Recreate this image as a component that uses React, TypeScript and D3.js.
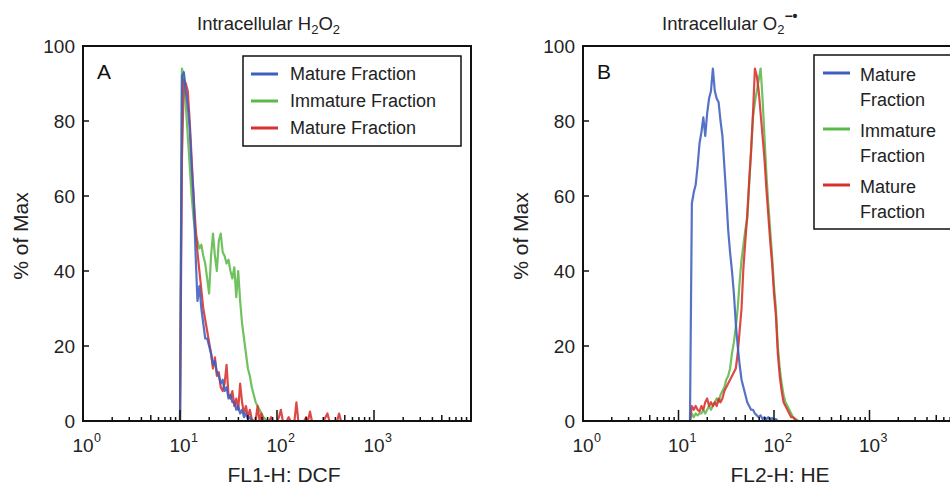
import React from 'react';
import * as d3 from 'd3';

const W = 950;
const H = 486;

const yTicks = [0, 20, 40, 60, 80, 100];
const xDecades = [0, 1, 2, 3];
const seriesColors = ['#3d5fbf', '#5db84b', '#d8302c'];
const legendA = ['Mature Fraction', 'Immature Fraction', 'Mature Fraction'];
const legendB = [['Mature', 'Fraction'], ['Immature', 'Fraction'], ['Mature', 'Fraction']];

// Histogram bins: log10(fluorescence) of first bin and bin width (decades)
const binStartA = 1.0;
const binStartB = 1.12;
const binStep = 0.02;

// Panel A: FL1-H DCF (% of max)
const blueA = [0, 92, 93, 88, 84, 78, 68, 60, 45, 32, 36, 30, 26, 22, 22, 20, 18, 15, 16, 13, 12, 10, 11, 8, 9, 6, 7, 5, 5, 3, 4, 2, 3, 1, 2, 0.5, 1, 0];
const greenA = [0, 94, 92, 84, 76, 68, 60, 54, 50, 48, 46, 47, 44, 42, 38, 34, 44, 50, 44, 40, 48, 50, 45, 44, 42, 43, 40, 38, 41, 33, 40, 32, 26, 22, 18, 14, 12, 9, 7, 5, 4, 3, 2, 1, 0.5, 0];
const redA = [0, 70, 91, 90, 88, 80, 70, 60, 52, 45, 40, 35, 30, 27, 24, 21, 18, 14, 17, 12, 13, 9, 8, 10, 15, 7, 6, 8, 4, 6, 3, 10, 5, 2, 4, 1, 3, 0.5, 0, 0, 4, 0, 2, 0, 0, 0, 0, 1, 0, 0, 0, 1, 3, 0, 0, 0, 1, 0, 0, 0, 5, 0, 0, 0, 0, 1, 0, 2.5, 0, 0, 0, 0, 0, 0, 0, 1, 2, 0, 0, 0, 0, 0, 2, 0];

// Panel B: FL2-H HE (% of max)
const blueB = [0, 58, 61, 63, 68, 74, 77, 81, 76, 82, 86, 88, 94, 88, 86, 85, 80, 76, 68, 60, 51, 45, 40, 34, 26, 20, 15, 11, 9, 7, 5, 4, 3, 3, 2, 1.5, 1, 1.5, 0.5, 1, 0.5, 1, 0.3, 0.8, 0.3, 0.5, 0];
const greenB = [0, 2, 1, 2, 1.5, 2, 2, 3, 2, 3, 4, 3, 4, 5, 6, 5, 7, 8, 9, 11, 12, 14, 18, 21, 25, 30, 37, 43, 47, 51, 54, 63, 72, 81, 85, 88, 91, 94, 86, 76, 66, 58, 51, 44, 36, 30, 20, 14, 10, 7, 5, 4, 3, 2, 1, 0.5, 0.3, 0];
const redB = [0, 4, 3, 4, 3, 2.5, 4, 3, 5, 6, 4, 5, 4, 5, 4, 6, 5, 6, 8, 9, 10, 11, 12, 13, 14, 18, 24, 30, 41, 48, 55, 64, 72, 82, 94, 92, 88, 82, 76, 70, 62, 55, 48, 42, 34, 28, 18, 12, 8, 5, 4, 3, 2, 1, 1, 0.5, 0];

const FONT = '"Liberation Sans", Arial, sans-serif';

type PanelProps = {
  left: number;
  right: number;
  letter: string;
  binStart: number;
  series: number[][];
  xTitle: string;
  xTitleDx: number;
  clipId: string;
};

function Panel({ left, right, letter, binStart, series, xTitle, xTitleDx, clipId }: PanelProps) {
  const top = 46;
  const bottom = 421;
  const x = d3.scaleLog().domain([1, 1e4]).range([left, right]);
  const y = d3.scaleLinear().domain([0, 100]).range([bottom, top]);
  const line = d3
    .line<number>()
    .x((_, i) => x(10 ** (binStart + i * binStep)))
    .y((d) => y(d));

  const minor: { v: number; m: number }[] = [];
  for (let e = 0; e < 4; e++) for (let m = 2; m <= 9; m++) minor.push({ v: m * 10 ** e, m });

  const order = [1, 2, 0];
  return (
    <g>
      <clipPath id={clipId}>
        <rect x={left} y={top} width={right - left} height={bottom - top} />
      </clipPath>
      <g clipPath={`url(#${clipId})`}>
        {order.map((k) => (
          <path
            key={k}
            d={line(series[k]) || ''}
            fill="none"
            stroke={seriesColors[k]}
            strokeWidth={2.2}
            strokeOpacity={0.88}
            strokeLinejoin="round"
          />
        ))}
      </g>
      <rect x={left} y={top} width={right - left} height={bottom - top} fill="none" stroke="#111" strokeWidth={2} />
      {minor.map((t, i) => (
        <line key={i} x1={x(t.v)} x2={x(t.v)} y1={bottom} y2={bottom - (t.m === 5 ? 6 : 4)} stroke="#111" strokeWidth={1.5} />
      ))}
      {xDecades.map((e) => (
        <g key={e}>
          <line x1={x(10 ** e)} x2={x(10 ** e)} y1={bottom} y2={bottom - 11} stroke="#111" strokeWidth={1.5} />
          <text x={x(10 ** e)} y={452} textAnchor="middle" fontSize={19} fontFamily={FONT} fill="#222">10</text>
          <text x={x(10 ** e) + 11} y={442} textAnchor="start" fontSize={12.5} fontFamily={FONT} fill="#222">{e}</text>
        </g>
      ))}
      {yTicks.map((t) => (
        <g key={t}>
          {t > 0 && t < 100 ? <line x1={left} x2={left + 6} y1={y(t)} y2={y(t)} stroke="#111" strokeWidth={1.5} /> : null}
          <text x={left - 8} y={y(t)} dy="0.36em" textAnchor="end" fontSize={19} fontFamily={FONT} fill="#222">{t}</text>
        </g>
      ))}
      <text x={left + 14} y={79} fontSize={21} fontFamily={FONT} fill="#111">{letter}</text>
      <text x={(left + right) / 2 + xTitleDx} y={482} textAnchor="middle" fontSize={21} fontFamily={FONT} fill="#222">{xTitle}</text>
      <text transform={`translate(${left - 63},${236}) rotate(-90)`} textAnchor="middle" dy="0.36em" fontSize={21} fontFamily={FONT} fill="#222">% of Max</text>
    </g>
  );
}

export default function App() {
  return (
    <svg width={W} height={H} style={{ position: 'absolute', left: 0, top: 0, background: '#fff' }}>
      <rect x={0} y={0} width={W} height={H} fill="#fff" />
      <text x={197} y={30} fontSize={18.5} fontFamily={FONT} fill="#222">
        Intracellular H<tspan fontSize={13} dy={4}>2</tspan><tspan dy={-4}>O</tspan><tspan fontSize={13} dy={4}>2</tspan>
      </text>
      <text x={662} y={30} fontSize={18.5} fontFamily={FONT} fill="#222">
        Intracellular O<tspan fontSize={13} dy={4}>2</tspan><tspan fontSize={14} dy={-13} fontWeight="bold">−•</tspan>
      </text>
      <Panel left={83} right={471} letter="A" binStart={binStartA} series={[blueA, greenA, redA]} xTitle="FL1-H: DCF" xTitleDx={7} clipId="clipA" />
      <Panel left={583} right={965} letter="B" binStart={binStartB} series={[blueB, greenB, redB]} xTitle="FL2-H: HE" xTitleDx={6} clipId="clipB" />
      {/* Legend A */}
      <g>
        <rect x={243} y={56} width={218} height={90} fill="#fff" stroke="#111" strokeWidth={1.5} />
        {legendA.map((lab, i) => (
          <g key={i}>
            <line x1={251} x2={278} y1={74 + i * 27} y2={74 + i * 27} stroke={seriesColors[i]} strokeWidth={3} />
            <text x={290} y={74 + i * 27} dy="0.36em" fontSize={18} fontFamily={FONT} fill="#222">{lab}</text>
          </g>
        ))}
      </g>
      {/* Legend B */}
      <g>
        <rect x={814} y={55} width={150} height={174} fill="#fff" stroke="#111" strokeWidth={1.5} />
        {legendB.map((lab, i) => (
          <g key={i}>
            <line x1={823} x2={850} y1={73 + i * 56} y2={73 + i * 56} stroke={seriesColors[i]} strokeWidth={3} />
            <text x={860} y={75 + i * 56} dy="0.36em" fontSize={18} fontFamily={FONT} fill="#222">{lab[0]}</text>
            <text x={860} y={100 + i * 56} dy="0.36em" fontSize={18} fontFamily={FONT} fill="#222">{lab[1]}</text>
          </g>
        ))}
      </g>
    </svg>
  );
}
